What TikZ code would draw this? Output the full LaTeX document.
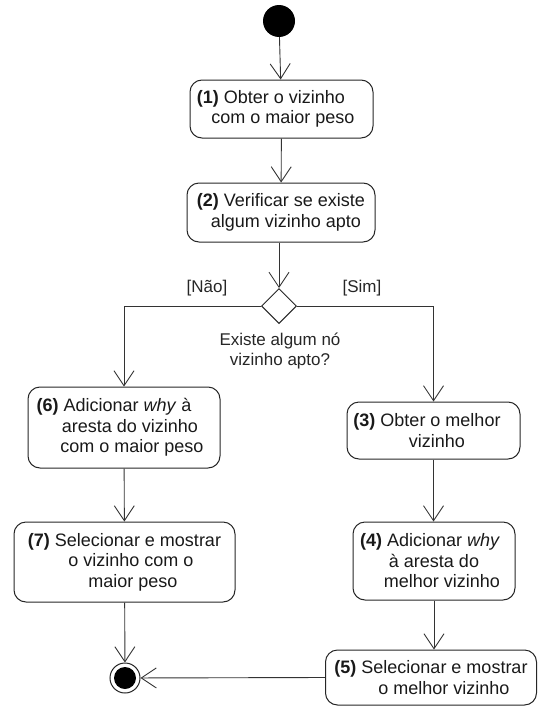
\documentclass[tikz,border=0pt]{standalone}
\usepackage{fontspec}
\setmainfont{Liberation Sans}
\usetikzlibrary{arrows.meta,shapes.geometric}
\tikzset{
  act/.style={draw=black!85, line width=1pt, rounded corners=12pt, align=center, inner sep=0pt,
    font=\fontsize{18}{20.5}\selectfont, text=black!90},
  conn/.style={draw=black!80, line width=0.9pt, -{Straight Barb[length=15pt,width=20pt,line width=0.9pt]}},
  plain/.style={draw=black!80, line width=0.9pt},
  lbl/.style={font=\fontsize{17}{20}\selectfont, text=black!85, align=center, inner sep=0pt}
}
\begin{document}
\begin{tikzpicture}[x=1pt,y=-1pt]
\useasboundingbox (0,0) rectangle (539,707);
\node[circle, fill=black, minimum size=32pt, inner sep=0pt] (start) at (279,21) {};
\node[act, minimum width=183pt, minimum height=58pt] (b1) at (281.5,109) {\textbf{(1)} Obter o vizinho\hspace*{21pt}\\\hspace*{3pt}com o maior peso};
\node[act, minimum width=188pt, minimum height=59pt] (b2) at (281,212.5) {\textbf{(2)} Verificar se existe\\\hspace*{10pt}algum vizinho apto};
\node[diamond, draw=black!85, line width=1pt, minimum width=35pt, minimum height=35pt, inner sep=0pt, fill=white] (dia) at (279,306) {};
\node[lbl] (q) at (280,351) {Existe algum nó\\vizinho apto?};
\node[lbl] (nao) at (207,288) {[Não]};
\node[lbl] (sim) at (362,288) {[Sim]};
\node[act, minimum width=192pt, minimum height=81pt] (b6) at (124,427.5) {\textbf{(6)} Adicionar \textit{why} à\hspace*{20pt}\\\hspace*{12pt}aresta do vizinho\\\hspace*{16pt}com o maior peso};
\node[act, minimum width=221pt, minimum height=80pt] (b7) at (124.5,562) {\textbf{(7)} Selecionar e mostrar\\\hspace*{13pt}o vizinho com o\\\hspace*{17pt}maior peso};
\node[act, minimum width=173pt, minimum height=57pt] (b3) at (433.5,430.5) {\textbf{(3)} Obter o melhor\hspace*{13pt}\\\hspace*{7pt}vizinho};
\node[act, minimum width=162pt, minimum height=78pt] (b4) at (434,561) {\textbf{(4)} Adicionar \textit{why}\hspace*{8pt}\\à aresta do\\\hspace*{16pt}melhor vizinho};
\node[act, minimum width=211pt, minimum height=55pt] (b5) at (431,677.5) {\textbf{(5)} Selecionar e mostrar\\\hspace*{26pt}o melhor vizinho};
\node[circle, draw=black!85, line width=1pt, fill=white, minimum size=30pt, inner sep=0pt] (end) at (125,678) {};
\node[circle, fill=black, minimum size=22pt, inner sep=0pt] (endin) at (end.center) {};
\coordinate (lc) at (124,306);
\coordinate (rc) at (433.5,306);
\draw[conn] (start) -- (b1);
\draw[conn] (b1) -- (b2);
\draw[conn] (b2.south -| dia.north) -- (dia.north);
\draw[plain] (dia.west) -- (lc);
\draw[conn] (lc) -- (b6.north);
\draw[plain] (dia.east) -- (rc);
\draw[conn] (rc) -- (b3.north);
\draw[conn] (b6) -- (b7);
\draw[conn] (b7) -- (end);
\draw[conn] (b3) -- (b3 |- b4.north);
\draw[conn] (b4) -- (b4 |- b5.north);
\draw[conn] (b5.west) -- (end);
\end{tikzpicture}
\end{document}
